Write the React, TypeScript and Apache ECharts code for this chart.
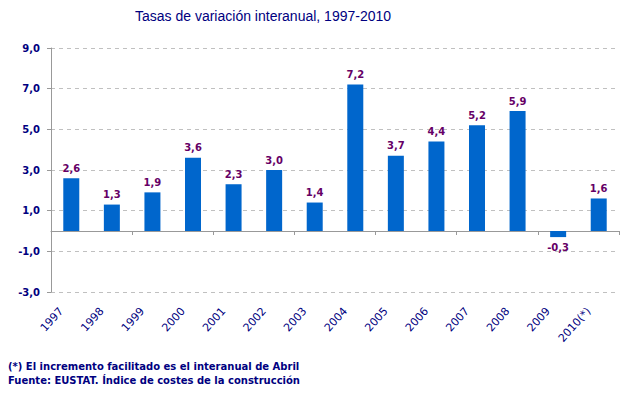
import React, { useEffect, useRef } from "react";
import * as echarts from "echarts";

const categories = ["1997", "1998", "1999", "2000", "2001", "2002", "2003", "2004", "2005", "2006", "2007", "2008", "2009", "2010(*)"];
const values = [2.6, 1.3, 1.9, 3.6, 2.3, 3.0, 1.4, 7.2, 3.7, 4.4, 5.2, 5.9, -0.3, 1.6];
const yTicks = [-3, -1, 1, 3, 5, 7, 9];
const titleText = "Tasas de variación interanual, 1997-2010";
const noteLines = [
  "(*) El incremento facilitado es el interanual de Abril",
  "Fuente: EUSTAT. Índice de costes de la construcción",
];

const fmt = (v: number) => v.toFixed(1).replace(".", ",");

export default function App() {
  const ref = useRef<HTMLDivElement>(null);
  useEffect(() => {
    if (!ref.current) return;
    const chart = echarts.init(ref.current, null, { renderer: "svg" });
    const yMin = yTicks[0];
    const yMax = yTicks[yTicks.length - 1];
    const step = yTicks[1] - yTicks[0];
    chart.setOption({
      animation: false,
      backgroundColor: "#ffffff",
      title: {
        text: titleText,
        left: 130,
        top: 4,
        textStyle: { fontFamily: "Liberation Sans", fontSize: 14, fontWeight: "normal", color: "#000080" },
      },
      grid: { left: 51, right: 15, top: 48, bottom: 107, containLabel: false },
      xAxis: [
        {
          type: "category",
          data: categories,
          position: "bottom",
          axisLine: { show: true, onZero: true, onZeroAxisIndex: 1, lineStyle: { color: "#999999", width: 1 } },
          axisTick: { show: true, length: 4, lineStyle: { color: "#999999" } },
          axisLabel: { show: false },
          splitLine: { show: false },
        },
        {
          type: "category",
          data: categories,
          position: "bottom",
          axisLine: { show: false, onZero: false },
          axisTick: { show: false },
          axisLabel: {
            interval: 0,
            rotate: 48,
            margin: 6,
            padding: [0, 15, 0, 0],
            fontFamily: "DejaVu Sans",
            fontSize: 11,
            color: "#000080",
          },
          splitLine: { show: false },
        },
      ],
      yAxis: [
        {
          type: "value",
          min: 0,
          max: yMax - yMin,
          interval: step,
          axisLine: { show: true, lineStyle: { color: "#999999", width: 1 } },
          axisTick: { show: true, length: 4, lineStyle: { color: "#999999" } },
          axisLabel: {
            margin: 11,
            fontFamily: "DejaVu Sans",
            fontSize: 10,
            fontWeight: "bold",
            color: "#000080",
            formatter: (v: number) => {
              const idx = Math.round(v / step);
              return yTicks[idx] !== undefined ? fmt(yTicks[idx]) : "";
            },
          },
          splitLine: { show: true, lineStyle: { color: "#c0c0c0", type: [4, 4], width: 1 } },
        },
        {
          type: "value",
          min: yMin,
          max: yMax,
          show: false,
          splitLine: { show: false },
        },
      ],
      series: [
        {
          type: "bar",
          xAxisIndex: 0,
          yAxisIndex: 1,
          barWidth: 16,
          data: values.map((v) => ({
            value: v,
            label: { position: v < 0 ? "bottom" : "top" },
          })),
          itemStyle: { color: "#0066cc" },
          label: {
            show: true,
            distance: 5,
            fontFamily: "DejaVu Sans",
            fontSize: 10,
            fontWeight: "bold",
            color: "#660066",
            formatter: (p: any) => fmt(p.value),
          },
        },
      ],
      graphic: noteLines.map((t, i) => ({
        type: "text",
        left: 8,
        top: 361 + i * 14,
        style: {
          text: t,
          fontFamily: "DejaVu Sans",
          fontSize: 10,
          fontWeight: "bold",
          fill: "#000080",
        },
      })),
    });
    return () => chart.dispose();
  }, []);
  return <div ref={ref} style={{ position: "fixed", left: 0, top: 0, width: 634, height: 399 }} />;
}
